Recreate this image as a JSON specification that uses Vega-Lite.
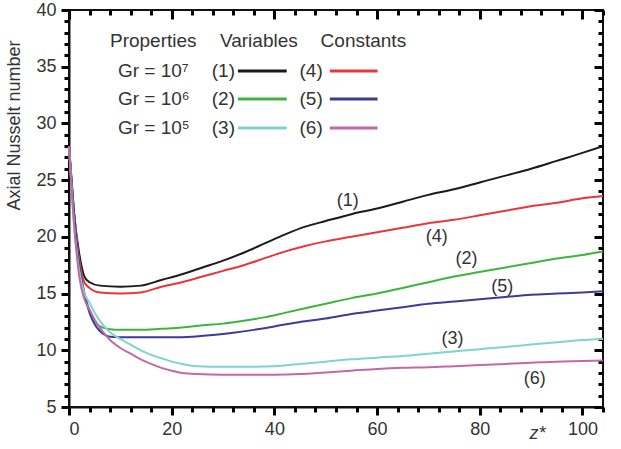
{
  "$schema": "https://vega.github.io/schema/vega-lite/v6.json",
  "width": 534,
  "height": 397,
  "padding": {"left": 4, "top": 1, "right": 5, "bottom": 5},
  "config": {
    "view": {"stroke": "#111", "strokeWidth": 2},
    "font": "Liberation Sans",
    "axis": {"domainColor": "#111", "domainWidth": 2, "tickColor": "black", "tickWidth": 3, "ticks": true, "grid": false, "labelFont": "Liberation Sans", "labelFontSize": 18, "labelColor": "#333", "titleFont": "Liberation Sans", "titleColor": "#333", "titleFontWeight": "normal"}
  },
  "datasets": {
    "curves": [
      {"s":"1","x":0,"y":28},{"s":"1","x":1,"y":22},{"s":"1","x":2,"y":18.5},{"s":"1","x":3,"y":16.5},{"s":"1","x":4,"y":16.0},{"s":"1","x":6,"y":15.7},{"s":"1","x":10,"y":15.6},{"s":"1","x":14,"y":15.7},{"s":"1","x":18,"y":16.2},{"s":"1","x":22,"y":16.7},{"s":"1","x":26,"y":17.3},{"s":"1","x":30,"y":17.9},{"s":"1","x":34,"y":18.6},{"s":"1","x":38,"y":19.4},{"s":"1","x":42,"y":20.2},{"s":"1","x":46,"y":20.9},{"s":"1","x":50,"y":21.4},{"s":"1","x":55,"y":22.0},{"s":"1","x":60,"y":22.5},{"s":"1","x":65,"y":23.1},{"s":"1","x":70,"y":23.7},{"s":"1","x":75,"y":24.2},{"s":"1","x":80,"y":24.8},{"s":"1","x":85,"y":25.4},{"s":"1","x":90,"y":26.0},{"s":"1","x":95,"y":26.7},{"s":"1","x":100,"y":27.4},{"s":"1","x":104,"y":28.0},
      {"s":"4","x":0,"y":28},{"s":"4","x":1,"y":22},{"s":"4","x":2,"y":18},{"s":"4","x":3,"y":16},{"s":"4","x":4,"y":15.5},{"s":"4","x":6,"y":15.1},{"s":"4","x":10,"y":15.0},{"s":"4","x":14,"y":15.1},{"s":"4","x":18,"y":15.6},{"s":"4","x":22,"y":16.0},{"s":"4","x":26,"y":16.5},{"s":"4","x":30,"y":17.0},{"s":"4","x":34,"y":17.5},{"s":"4","x":38,"y":18.1},{"s":"4","x":42,"y":18.7},{"s":"4","x":46,"y":19.2},{"s":"4","x":50,"y":19.6},{"s":"4","x":55,"y":20.0},{"s":"4","x":60,"y":20.4},{"s":"4","x":65,"y":20.8},{"s":"4","x":70,"y":21.2},{"s":"4","x":75,"y":21.5},{"s":"4","x":80,"y":21.9},{"s":"4","x":85,"y":22.3},{"s":"4","x":90,"y":22.7},{"s":"4","x":95,"y":23.0},{"s":"4","x":100,"y":23.4},{"s":"4","x":104,"y":23.6},
      {"s":"2","x":0,"y":28},{"s":"2","x":1,"y":22},{"s":"2","x":2,"y":17.5},{"s":"2","x":3,"y":15},{"s":"2","x":4,"y":13.5},{"s":"2","x":5,"y":12.6},{"s":"2","x":6,"y":12.1},{"s":"2","x":8,"y":11.85},{"s":"2","x":10,"y":11.8},{"s":"2","x":14,"y":11.8},{"s":"2","x":18,"y":11.9},{"s":"2","x":22,"y":12.0},{"s":"2","x":26,"y":12.2},{"s":"2","x":30,"y":12.35},{"s":"2","x":34,"y":12.6},{"s":"2","x":38,"y":12.9},{"s":"2","x":42,"y":13.3},{"s":"2","x":46,"y":13.7},{"s":"2","x":50,"y":14.1},{"s":"2","x":55,"y":14.6},{"s":"2","x":60,"y":15.0},{"s":"2","x":65,"y":15.5},{"s":"2","x":70,"y":16.0},{"s":"2","x":75,"y":16.5},{"s":"2","x":80,"y":16.9},{"s":"2","x":85,"y":17.3},{"s":"2","x":90,"y":17.7},{"s":"2","x":95,"y":18.1},{"s":"2","x":100,"y":18.4},{"s":"2","x":104,"y":18.7},
      {"s":"5","x":0,"y":28},{"s":"5","x":1,"y":22},{"s":"5","x":2,"y":17.5},{"s":"5","x":3,"y":15},{"s":"5","x":4,"y":13.3},{"s":"5","x":5,"y":12.3},{"s":"5","x":6,"y":11.7},{"s":"5","x":7,"y":11.35},{"s":"5","x":8,"y":11.2},{"s":"5","x":12,"y":11.15},{"s":"5","x":16,"y":11.15},{"s":"5","x":20,"y":11.15},{"s":"5","x":24,"y":11.2},{"s":"5","x":28,"y":11.35},{"s":"5","x":32,"y":11.55},{"s":"5","x":36,"y":11.8},{"s":"5","x":40,"y":12.1},{"s":"5","x":45,"y":12.5},{"s":"5","x":50,"y":12.8},{"s":"5","x":55,"y":13.2},{"s":"5","x":60,"y":13.5},{"s":"5","x":65,"y":13.8},{"s":"5","x":70,"y":14.1},{"s":"5","x":75,"y":14.3},{"s":"5","x":80,"y":14.5},{"s":"5","x":85,"y":14.7},{"s":"5","x":90,"y":14.9},{"s":"5","x":95,"y":15.0},{"s":"5","x":100,"y":15.1},{"s":"5","x":104,"y":15.2},
      {"s":"3","x":0,"y":28},{"s":"3","x":1,"y":21},{"s":"3","x":2,"y":17},{"s":"3","x":3,"y":15},{"s":"3","x":4,"y":14.2},{"s":"3","x":5,"y":13.3},{"s":"3","x":6,"y":12.6},{"s":"3","x":8,"y":11.6},{"s":"3","x":10,"y":11.0},{"s":"3","x":12,"y":10.5},{"s":"3","x":14,"y":10.0},{"s":"3","x":16,"y":9.6},{"s":"3","x":18,"y":9.3},{"s":"3","x":20,"y":9.0},{"s":"3","x":22,"y":8.8},{"s":"3","x":25,"y":8.6},{"s":"3","x":30,"y":8.55},{"s":"3","x":35,"y":8.55},{"s":"3","x":40,"y":8.6},{"s":"3","x":45,"y":8.8},{"s":"3","x":50,"y":9.0},{"s":"3","x":55,"y":9.2},{"s":"3","x":60,"y":9.35},{"s":"3","x":65,"y":9.5},{"s":"3","x":70,"y":9.7},{"s":"3","x":75,"y":9.9},{"s":"3","x":80,"y":10.1},{"s":"3","x":85,"y":10.3},{"s":"3","x":90,"y":10.5},{"s":"3","x":95,"y":10.7},{"s":"3","x":100,"y":10.9},{"s":"3","x":104,"y":11.0},
      {"s":"6","x":0,"y":28},{"s":"6","x":1,"y":21},{"s":"6","x":2,"y":16.5},{"s":"6","x":3,"y":14.5},{"s":"6","x":4,"y":13.6},{"s":"6","x":5,"y":12.7},{"s":"6","x":6,"y":12.0},{"s":"6","x":8,"y":10.9},{"s":"6","x":10,"y":10.2},{"s":"6","x":12,"y":9.7},{"s":"6","x":14,"y":9.2},{"s":"6","x":16,"y":8.8},{"s":"6","x":18,"y":8.45},{"s":"6","x":20,"y":8.2},{"s":"6","x":22,"y":8.0},{"s":"6","x":25,"y":7.9},{"s":"6","x":30,"y":7.85},{"s":"6","x":35,"y":7.85},{"s":"6","x":40,"y":7.85},{"s":"6","x":45,"y":7.9},{"s":"6","x":50,"y":8.05},{"s":"6","x":55,"y":8.2},{"s":"6","x":60,"y":8.35},{"s":"6","x":65,"y":8.45},{"s":"6","x":70,"y":8.5},{"s":"6","x":75,"y":8.6},{"s":"6","x":80,"y":8.7},{"s":"6","x":85,"y":8.8},{"s":"6","x":90,"y":8.9},{"s":"6","x":95,"y":9.0},{"s":"6","x":100,"y":9.05},{"s":"6","x":104,"y":9.1}
    ],
    "curveLabels": [
      {"t":"(1)","x":54.3,"y":23.2},{"t":"(4)","x":71.6,"y":20.0},{"t":"(2)","x":77.4,"y":18.05},{"t":"(5)","x":84.4,"y":15.6},{"t":"(3)","x":74.7,"y":11.0},{"t":"(6)","x":90.7,"y":7.5}
    ],
    "legendLines": [
      {"s":"1","x1":32.9,"x2":42.4,"y":34.63},{"s":"4","x1":50.8,"x2":60.1,"y":34.63},
      {"s":"2","x1":32.9,"x2":42.4,"y":32.16},{"s":"5","x1":50.8,"x2":60.1,"y":32.16},
      {"s":"3","x1":32.9,"x2":42.4,"y":29.6},{"s":"6","x1":50.8,"x2":60.1,"y":29.6}
    ],
    "legendText": [
      {"t":"Properties","x":7.98,"y":37.27},{"t":"Variables","x":29.4,"y":37.27},{"t":"Constants","x":49.0,"y":37.27},
      {"t":"Gr = 10⁷","x":9.53,"y":34.63},{"t":"(1)","x":27.8,"y":34.63},{"t":"(4)","x":44.9,"y":34.63},
      {"t":"Gr = 10⁶","x":9.53,"y":32.16},{"t":"(2)","x":27.8,"y":32.16},{"t":"(5)","x":44.9,"y":32.16},
      {"t":"Gr = 10⁵","x":9.53,"y":29.6},{"t":"(3)","x":27.8,"y":29.6},{"t":"(6)","x":44.9,"y":29.6}
    ]
  },
  "resolve": {"axis": {"x": "independent", "y": "independent"}},
  "layer": [
    {
      "data": {"name": "curves"},
      "mark": {"type": "line", "strokeWidth": 2, "interpolate": "monotone"},
      "encoding": {
        "x": {"field": "x", "type": "quantitative", "scale": {"domain": [0, 104], "nice": false, "zero": false},
          "axis": {"orient": "bottom", "values": [0,20,40,60,80,100], "tickSize": 8, "tickColor": "black", "tickWidth": 3, "labelPadding": 5,
            "title": "z*", "titleFontStyle": "italic", "titleFontSize": 18, "titleX": 468, "titleY": 26, "titleAlign": "center", "titleBaseline": "middle"}},
        "y": {"field": "y", "type": "quantitative", "scale": {"domain": [5, 40], "nice": false, "zero": false},
          "axis": {"orient": "left", "values": [5,10,15,20,25,30,35,40], "tickSize": 8, "tickColor": "black", "tickWidth": 3, "labelPadding": 5,
            "title": "Axial Nusselt number", "titleFontSize": 18, "titleX": -46, "titleY": 115, "titleAngle": 270, "titleAlign": "center", "titleBaseline": "bottom"}},
        "color": {"field": "s", "type": "nominal", "legend": null,
          "scale": {"domain": ["1","2","3","4","5","6"], "range": ["#1a1a1a", "#3db53d", "#7fd4cd", "#e8363c", "#3a3c98", "#c468a6"]}},
        "detail": {"field": "s"}
      }
    },
    {
      "data": {"name": "curveLabels"},
      "mark": {"type": "text", "fontSize": 18, "color": "#333", "align": "center", "baseline": "middle"},
      "encoding": {
        "x": {"field": "x", "type": "quantitative",
          "axis": {"orient": "bottom", "values": [4,8,12,16,24,28,32,36,44,48,52,56,64,68,72,76,84,88,92,96,104],
            "labels": false, "title": null, "domain": false, "tickSize": 5, "tickColor": "black", "tickWidth": 3}},
        "y": {"field": "y", "type": "quantitative",
          "axis": {"orient": "left", "values": [6,7,8,9,11,12,13,14,16,17,18,19,21,22,23,24,26,27,28,29,31,32,33,34,36,37,38,39],
            "labels": false, "title": null, "domain": false, "tickSize": 5, "tickColor": "black", "tickWidth": 3}},
        "text": {"field": "t"}
      }
    },
    {
      "data": {"name": "legendLines"},
      "mark": {"type": "rule", "strokeWidth": 3},
      "encoding": {
        "x": {"field": "x1", "type": "quantitative",
          "axis": {"orient": "top", "values": [0,20,40,60,80,100], "labels": false, "title": null, "domain": false, "tickSize": -9, "tickColor": "black", "tickWidth": 3}},
        "x2": {"field": "x2"},
        "y": {"field": "y", "type": "quantitative",
          "axis": {"orient": "right", "values": [5,10,15,20,25,30,35,40], "labels": false, "title": null, "domain": false, "tickSize": -9, "tickColor": "black", "tickWidth": 3}},
        "color": {"field": "s", "type": "nominal", "legend": null}
      }
    },
    {
      "data": {"name": "legendText"},
      "mark": {"type": "text", "fontSize": 19, "color": "#333", "align": "left", "baseline": "middle"},
      "encoding": {
        "x": {"field": "x", "type": "quantitative",
          "axis": {"orient": "top", "values": [4,8,12,16,24,28,32,36,44,48,52,56,64,68,72,76,84,88,92,96,104], "labels": false, "title": null, "domain": false, "tickSize": -5, "tickColor": "black", "tickWidth": 3}},
        "y": {"field": "y", "type": "quantitative",
          "axis": {"orient": "right", "values": [6,7,8,9,11,12,13,14,16,17,18,19,21,22,23,24,26,27,28,29,31,32,33,34,36,37,38,39], "labels": false, "title": null, "domain": false, "tickSize": -5, "tickColor": "black", "tickWidth": 3}},
        "text": {"field": "t"}
      }
    }
  ]
}
